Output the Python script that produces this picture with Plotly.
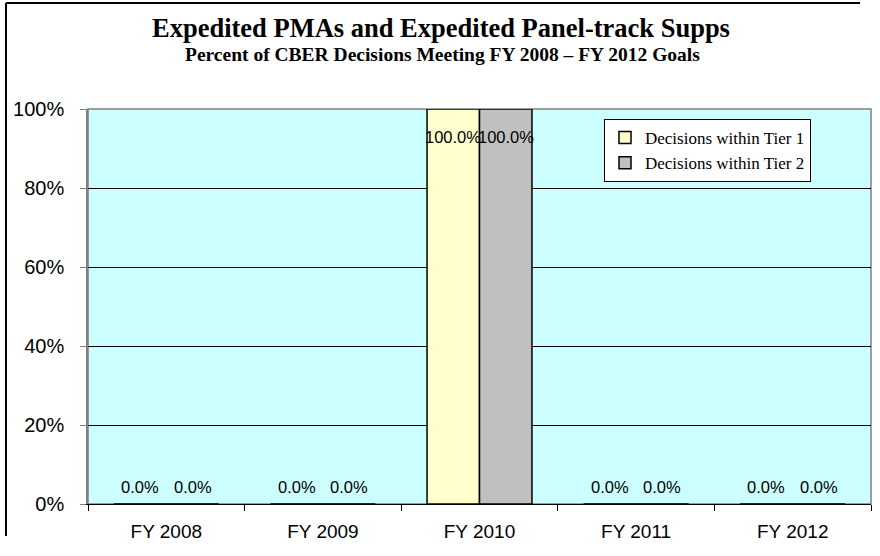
import plotly.graph_objects as go

# ---- data ----
categories = ["FY 2008", "FY 2009", "FY 2010", "FY 2011", "FY 2012"]
tier1 = [0.0, 0.0, 100.0, 0.0, 0.0]
tier2 = [0.0, 0.0, 100.0, 0.0, 0.0]
series_names = ["Decisions within Tier 1", "Decisions within Tier 2"]
y_ticks = [0, 20, 40, 60, 80, 100]
title_text = "Expedited PMAs and Expedited Panel-track Supps"
subtitle_text = "Percent of CBER Decisions Meeting FY 2008 \u2013 FY 2012 Goals"

# ---- layout geometry ----
W, H = 880, 556
L, R, T, B = 88, 9, 109, 52
plot_w = W - L - R
plot_h = H - T - B
bargap = 0.33

def px_x(x):
    return (x - L) / plot_w

def px_y(y):
    return (H - B - y) / plot_h

colors = ["#FFFFCC", "#C0C0C0"]

fig = go.Figure()
for name, vals, col in zip(series_names, [tier1, tier2], colors):
    fig.add_trace(go.Bar(
        x=categories, y=vals, name=name,
        marker=dict(color=col, line=dict(color="black", width=1.5)),
        hoverinfo="x+y",
    ))

# data labels
cat_px = plot_w / len(categories)
bar_px = cat_px * (1 - bargap) / 2
annotations = []
for i, vals in enumerate([tier1, tier2]):
    xs = (i - 0.5) * bar_px
    for c, v in zip(categories, vals):
        annotations.append(dict(
            x=c, y=v, xref="x", yref="y", text=f"{v:.1f}%",
            showarrow=False, xshift=xs, yshift=(17 if v < 50 else -28),
            yanchor="middle", xanchor="center",
            font=dict(family="Arial, Liberation Sans", size=16.5, color="black"),
        ))

annotations.append(dict(
    x=px_x(441), y=px_y(28), xref="paper", yref="paper", text=f"<b>{title_text}</b>",
    showarrow=False, xanchor="center", yanchor="middle",
    font=dict(family="Times New Roman, Liberation Serif", size=26.5, color="black"),
))
annotations.append(dict(
    x=px_x(442), y=px_y(55), xref="paper", yref="paper", text=f"<b>{subtitle_text}</b>",
    showarrow=False, xanchor="center", yanchor="middle",
    font=dict(family="Times New Roman, Liberation Serif", size=19.5, color="black"),
))

shapes = [
    # plot area border (gray)
    dict(type="rect", xref="paper", yref="paper", x0=0, x1=1, y0=0, y1=1,
         line=dict(color="#808080", width=1.5), layer="below"),
    # outer chart frame (left and top edges)
    dict(type="line", xref="paper", yref="paper", x0=px_x(6), x1=px_x(6),
         y0=px_y(3), y1=px_y(H - 20), line=dict(color="black", width=2), layer="below"),
    dict(type="line", xref="paper", yref="paper", x0=px_x(6), x1=px_x(W - 20),
         y0=px_y(3), y1=px_y(3), line=dict(color="black", width=2), layer="below"),
]

fig.update_layout(
    width=W, height=H,
    margin=dict(l=L, r=R, t=T, b=B),
    paper_bgcolor="white",
    plot_bgcolor="#CCFFFF",
    barmode="group",
    bargap=bargap,
    bargroupgap=0,
    showlegend=True,
    legend=dict(
        x=px_x(604), y=px_y(119), xanchor="left", yanchor="top",
        bgcolor="white", bordercolor="black", borderwidth=1,
        font=dict(family="Times New Roman, Liberation Serif", size=17, color="black"),
        itemwidth=30, tracegroupgap=0,
    ),
    annotations=annotations,
    shapes=shapes,
    xaxis=dict(
        type="category", showline=True, linecolor="black", linewidth=1,
        ticks="outside", tickson="boundaries", ticklen=6, tickcolor="black",
        ticklabelstandoff=10,
        tickfont=dict(family="Arial, Liberation Sans", size=19, color="black"),
        showgrid=False,
    ),
    yaxis=dict(
        range=[0, 100], tickvals=y_ticks, ticktext=[f"{t}%" for t in y_ticks],
        showline=True, linecolor="#808080", linewidth=1.5,
        ticks="outside", ticklen=6, tickcolor="#808080",
        ticklabelstandoff=12,
        tickfont=dict(family="Arial, Liberation Sans", size=20, color="black"),
        showgrid=False, zeroline=False,
        minor=dict(tickvals=y_ticks[1:-1], showgrid=True, gridcolor="black", gridwidth=1, ticks=""),
    ),
)

fig.write_html("out.html", config={"displayModeBar": False},
               post_script="document.body.style.margin='0px';document.body.style.overflow='hidden';")
